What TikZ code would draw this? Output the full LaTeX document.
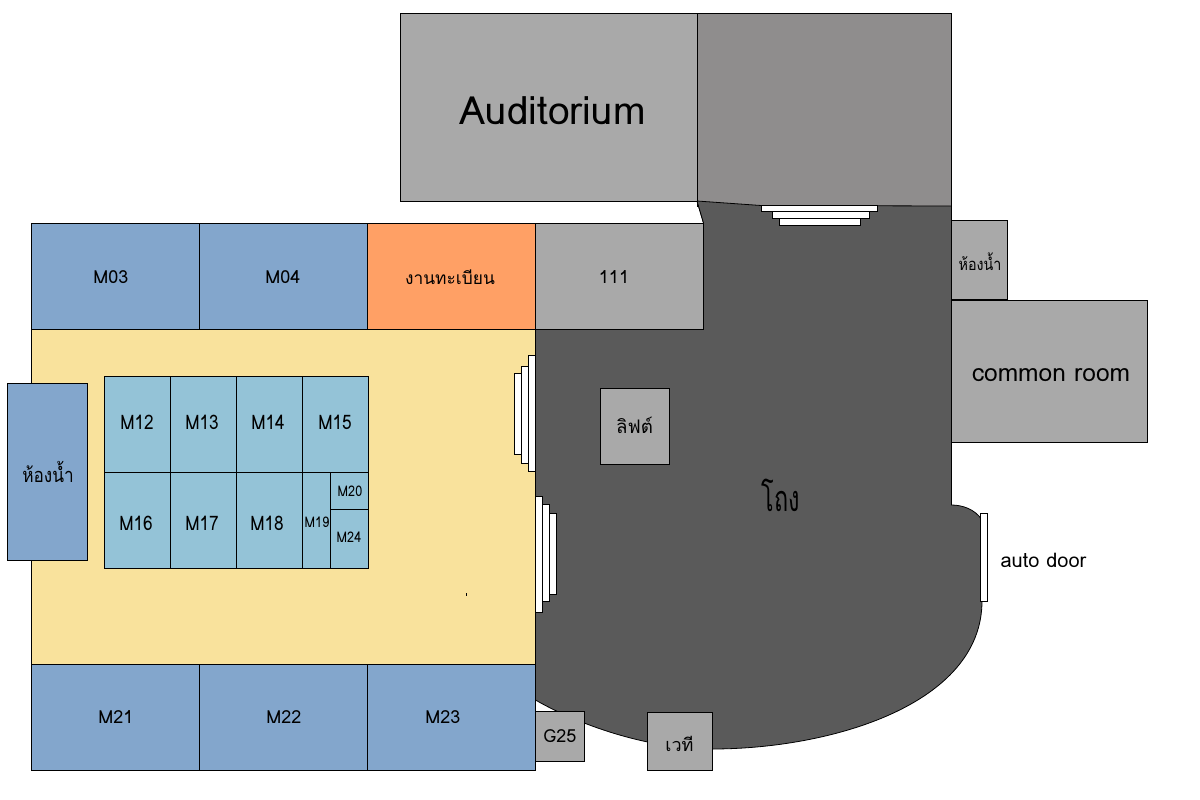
\documentclass[tikz,border=0pt]{standalone}
\usepackage{fontspec}
\setmainfont[Script=Thai]{Loma}
\newfontfamily\narrowfont[Script=Thai,FakeStretch=0.86]{Loma}
\newfontfamily\slimfont[Script=Thai,FakeStretch=0.65]{Loma}
\definecolor{audA}{HTML}{A9A9A9}
\definecolor{audB}{HTML}{8F8D8D}
\definecolor{blueroom}{HTML}{83A6CC}
\definecolor{tealroom}{HTML}{94C3D7}
\definecolor{orangeroom}{HTML}{FFA065}
\definecolor{yellowhall}{HTML}{F9E29C}
\definecolor{lobby}{HTML}{5A5A5A}
\tikzset{
  wall/.style={draw=black,line width=0.75pt},
  stairbar/.style={wall,fill=white},
  lbl/.style={inner sep=0pt,text=black},
  ltxt/.style={lbl,font=\narrowfont\fontsize{15}{18}\selectfont},
  mtxt/.style={lbl,font=\fontsize{13.5}{16}\selectfont},
  stxt/.style={lbl,font=\narrowfont\fontsize{11}{13}\selectfont},
}
\newcommand{\roomrect}[5]{\draw[wall,fill=#1] (#2,#3) rectangle (#4,#5);}
\begin{document}
\begin{tikzpicture}[x=0.75pt,y=-0.75pt]
\useasboundingbox (0,0) rectangle (1200,800);
% hall
\roomrect{yellowhall}{31}{329}{535.5}{664}
% lobby
\draw[wall,line width=0.6pt,fill=lobby] (697,201) -- (703.5,223) -- (703.5,329) -- (535.5,329) -- (535.5,700)
  .. controls (570,720) and (640,749) .. (712,749)
  .. controls (830,749) and (982,705) .. (982,601)
  -- (982,520) .. controls (975,509) and (962,505) .. (951.5,505)
  -- (951.5,206) -- cycle;
% auditorium
\roomrect{audB}{697.5}{13.5}{951.5}{206}
\draw[wall,line width=0.6pt,fill=lobby] (697,201) -- (761,205.5) -- (951.5,206) -- (951.5,240) -- (703.5,240) -- (703.5,223) -- cycle;
\fill[lobby] (704,220) rectangle (951,245);
\roomrect{audA}{400}{13.5}{697.5}{201.5}
% top rooms
\roomrect{blueroom}{31.5}{223.5}{199.5}{329.5}
\roomrect{blueroom}{199.5}{223.5}{367.5}{329.5}
\roomrect{orangeroom}{367.5}{223.5}{535.5}{329.5}
\roomrect{audA}{535.5}{223.5}{703.5}{329.5}
% bottom rooms
\roomrect{blueroom}{31.5}{664.5}{199.5}{770.5}
\roomrect{blueroom}{199.5}{664.5}{367.5}{770.5}
\roomrect{blueroom}{367.5}{664.5}{535.5}{770.5}
% left toilet
\roomrect{blueroom}{7.5}{383.5}{87.5}{560.5}
% classroom block
\roomrect{tealroom}{104.5}{376.5}{170.5}{472.5}
\roomrect{tealroom}{170.5}{376.5}{236.5}{472.5}
\roomrect{tealroom}{236.5}{376.5}{302.5}{472.5}
\roomrect{tealroom}{302.5}{376.5}{368.5}{472.5}
\roomrect{tealroom}{104.5}{472.5}{170.5}{568.5}
\roomrect{tealroom}{170.5}{472.5}{236.5}{568.5}
\roomrect{tealroom}{236.5}{472.5}{302.5}{568.5}
\roomrect{tealroom}{302.5}{472.5}{330.5}{568.5}
\roomrect{tealroom}{330.5}{472.5}{368.5}{509.5}
\roomrect{tealroom}{330.5}{509.5}{368.5}{568.5}
% grey rooms
\roomrect{audA}{535.5}{711}{584.5}{761}
\roomrect{audA}{647.5}{712}{712.5}{770}
\roomrect{audA}{600.5}{388}{669.5}{464}
\roomrect{audA}{951.5}{220}{1007.5}{299.5}
\roomrect{audA}{951.5}{300}{1147.5}{442}
% stairs
\draw[stairbar] (761.5,205) rectangle (877.5,211.5);
\draw[stairbar] (772.5,211.5) rectangle (869.5,218.5);
\draw[stairbar] (779.5,218.5) rectangle (860.5,225.5);
\draw[stairbar] (514.5,373.5) rectangle (521.5,454.5);
\draw[stairbar] (521.5,366.5) rectangle (528.5,463.5);
\draw[stairbar] (528.5,355.5) rectangle (535.5,471.5);
\draw[stairbar] (549.5,513.5) rectangle (556.5,594.5);
\draw[stairbar] (542.5,504.5) rectangle (549.5,601.5);
\draw[stairbar] (535.5,496.5) rectangle (542.5,612.5);
\draw[stairbar] (980.5,513.5) rectangle (987.5,601.5);
\fill[black] (465.5,593) rectangle (466.5,596);
% labels
\node[lbl,font=\fontsize{29.2}{35}\selectfont] (auditorium) at (552.5,111) {Auditorium};
\node[mtxt] (m03) at (111,277) {M03};
\node[mtxt] (m04) at (283,277) {M04};
\node[mtxt,font=\fontsize{13}{16}\selectfont] (reg) at (450,277) {งานทะเบียน};
\node[mtxt] (r111) at (614,277) {111};
\node[ltxt] (m12) at (137,422) {M12};
\node[ltxt] (m13) at (202,422) {M13};
\node[ltxt] (m14) at (268,422) {M14};
\node[ltxt] (m15) at (335,422) {M15};
\node[ltxt] (m16) at (136,523) {M16};
\node[ltxt] (m17) at (202,523) {M17};
\node[ltxt] (m18) at (267,523) {M18};
\node[stxt] (m19) at (317,522) {M19};
\node[stxt] (m20) at (350,491) {M20};
\node[stxt] (m24) at (349,537) {M24};
\node[ltxt] (wcl) at (48,472) {ห้องน้ำ};
\node[stxt,font=\narrowfont\fontsize{12.5}{14}\selectfont] (wcr) at (980,262) {ห้องน้ำ};
\node[lbl,font=\fontsize{18.4}{22}\selectfont] (common) at (1051,375) {common room};
\node[ltxt,font=\fontsize{14}{18}\selectfont] (lift) at (634.5,425) {ลิฟต์};
\node[lbl,font=\slimfont\fontsize{27}{32}\selectfont] (lobbytxt) at (781,495) {โถง};
\node[lbl,font=\fontsize{15}{18}\selectfont] (autodoor) at (1043.5,560) {auto door};
\node[mtxt] (m21) at (116,717) {M21};
\node[mtxt] (m22) at (284,717) {M22};
\node[mtxt] (m23) at (443,717) {M23};
\node[mtxt] (g25) at (560,736) {G25};
\node[mtxt] (stage) at (679.5,744) {เวที};
\end{tikzpicture}
\end{document}
